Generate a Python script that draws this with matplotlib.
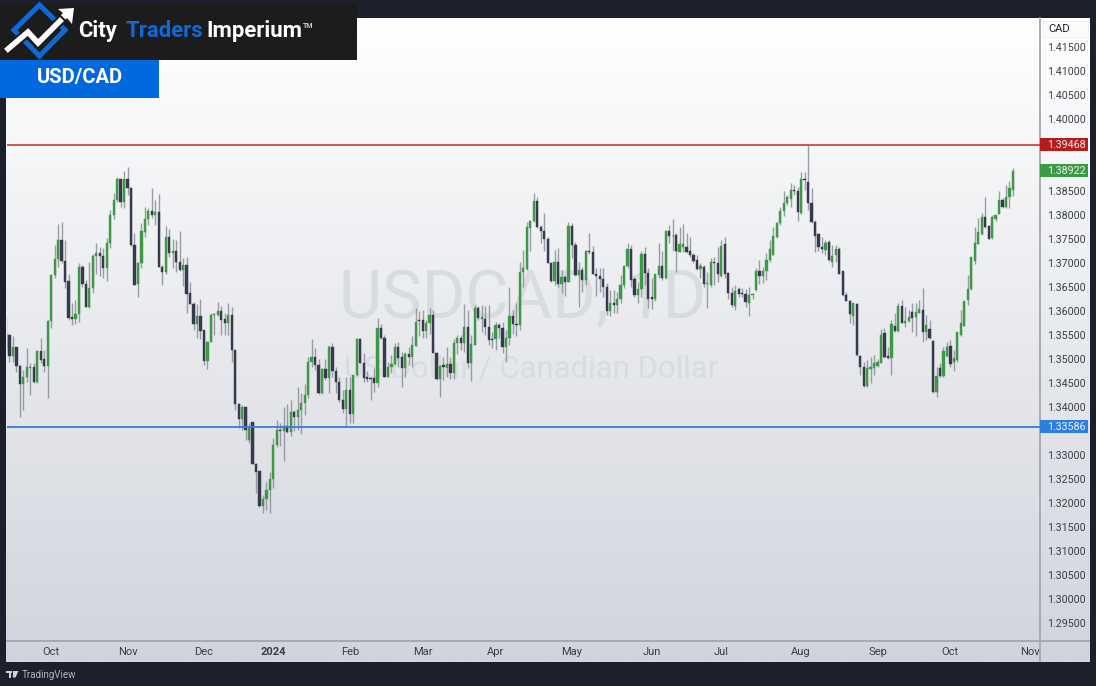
import numpy as np
import matplotlib
matplotlib.use("Agg")
import matplotlib.pyplot as plt
from matplotlib.patches import Rectangle, Polygon
from matplotlib.transforms import blended_transform_factory

highs = [
1.3588,1.3553,1.3547,1.3526,1.3487,1.3477,1.3522,1.3491,1.3491,1.3519,
1.3543,1.3519,1.3581,1.3678,1.3737,1.3781,1.3785,1.3747,1.3678,1.3617,
1.3623,1.3699,1.3696,1.3665,1.3703,1.3718,1.3741,1.3734,1.3731,1.3753,
1.3810,1.3845,1.3880,1.3876,1.3892,1.3899,1.3859,1.3762,1.3703,1.3783,
1.3816,1.3814,1.3856,1.3831,1.3843,1.3696,1.3777,1.3771,1.3751,1.3748,
1.3767,1.3710,1.3712,1.3661,1.3619,1.3615,1.3626,1.3560,1.3537,1.3595,
1.3595,1.3619,1.3610,1.3595,1.3617,1.3609,1.3519,1.3408,1.3404,1.3401,
1.3367,1.3369,1.3283,1.3267,1.3217,1.3244,1.3265,1.3335,1.3372,1.3366,
1.3399,1.3406,1.3415,1.3394,1.3442,1.3429,1.3448,1.3505,1.3542,1.3522,
1.3501,1.3481,1.3501,1.3529,1.3534,1.3484,1.3463,1.3435,1.3463,1.3463,
1.3467,1.3543,1.3543,1.3512,1.3474,1.3463,1.3481,1.3585,1.3573,1.3550,
1.3494,1.3508,1.3533,1.3535,1.3515,1.3515,1.3526,1.3547,1.3606,1.3599,
1.3602,1.3581,1.3606,1.3602,1.3515,1.3488,1.3505,1.3524,1.3505,1.3541,
1.3551,1.3550,1.3615,1.3603,1.3550,1.3612,1.3610,1.3612,1.3610,1.3612,
1.3557,1.3578,1.3574,1.3578,1.3560,1.3651,1.3602,1.3616,1.3703,1.3727,
1.3786,1.3790,1.3845,1.3837,1.3779,1.3805,1.3755,1.3703,1.3727,1.3731,
1.3685,1.3675,1.3785,1.3784,1.3744,1.3703,1.3692,1.3727,1.3763,1.3735,
1.3689,1.3689,1.3689,1.3658,1.3644,1.3644,1.3640,1.3675,1.3696,1.3742,
1.3737,1.3671,1.3661,1.3724,1.3734,1.3689,1.3668,1.3678,1.3741,1.3724,
1.3769,1.3779,1.3791,1.3762,1.3776,1.3781,1.3763,1.3755,1.3720,1.3717,
1.3699,1.3696,1.3682,1.3710,1.3712,1.3734,1.3748,1.3755,1.3682,1.3651,
1.3654,1.3651,1.3647,1.3645,1.3649,1.3637,1.3689,1.3706,1.3692,1.3720,
1.3748,1.3776,1.3786,1.3817,1.3849,1.3842,1.3866,1.3863,1.3859,1.3889,
1.3889,1.3946,1.3856,1.3790,1.3762,1.3755,1.3748,1.3747,1.3738,1.3738,
1.3734,1.3684,1.3640,1.3623,1.3617,1.3616,1.3508,1.3494,1.3498,1.3505,
1.3508,1.3501,1.3562,1.3564,1.3526,1.3581,1.3595,1.3616,1.3623,1.3609,
1.3602,1.3616,1.3616,1.3623,1.3647,1.3592,1.3581,1.3540,1.3484,1.3491,
1.3526,1.3536,1.3540,1.3519,1.3557,1.3602,1.3621,1.3675,1.3713,1.3776,
1.3793,1.3804,1.3838,1.3779,1.3800,1.3800,1.3849,1.3835,1.3863,1.3870,
1.3897]

lows = [
1.3512,1.3494,1.3494,1.3472,1.3380,1.3394,1.3453,1.3425,1.3449,1.3449,
1.3491,1.3472,1.3418,1.3564,1.3668,1.3691,1.3699,1.3647,1.3581,1.3571,
1.3573,1.3578,1.3651,1.3608,1.3607,1.3637,1.3678,1.3672,1.3668,1.3663,
1.3731,1.3792,1.3828,1.3816,1.3814,1.3842,1.3736,1.3654,1.3630,1.3689,
1.3755,1.3779,1.3793,1.3779,1.3691,1.3654,1.3678,1.3713,1.3689,1.3682,
1.3684,1.3652,1.3595,1.3615,1.3560,1.3543,1.3542,1.3487,1.3480,1.3536,
1.3549,1.3590,1.3550,1.3550,1.3550,1.3494,1.3394,1.3356,1.3352,1.3331,
1.3324,1.3281,1.3220,1.3192,1.3179,1.3185,1.3179,1.3231,1.3317,1.3319,
1.3288,1.3345,1.3340,1.3349,1.3352,1.3344,1.3383,1.3418,1.3484,1.3477,
1.3427,1.3427,1.3456,1.3430,1.3463,1.3429,1.3411,1.3387,1.3359,1.3366,
1.3366,1.3465,1.3491,1.3453,1.3453,1.3415,1.3432,1.3441,1.3542,1.3463,
1.3462,1.3470,1.3488,1.3484,1.3441,1.3463,1.3488,1.3484,1.3527,1.3547,
1.3543,1.3543,1.3553,1.3512,1.3456,1.3420,1.3456,1.3463,1.3458,1.3458,
1.3510,1.3519,1.3514,1.3481,1.3455,1.3529,1.3581,1.3557,1.3550,1.3529,
1.3522,1.3519,1.3543,1.3512,1.3494,1.3529,1.3553,1.3547,1.3560,1.3651,
1.3686,1.3725,1.3786,1.3772,1.3742,1.3724,1.3699,1.3661,1.3654,1.3651,
1.3637,1.3631,1.3660,1.3710,1.3672,1.3609,1.3640,1.3654,1.3719,1.3677,
1.3631,1.3640,1.3630,1.3592,1.3590,1.3595,1.3595,1.3616,1.3647,1.3689,
1.3651,1.3630,1.3616,1.3630,1.3654,1.3606,1.3604,1.3621,1.3668,1.3665,
1.3667,1.3741,1.3724,1.3682,1.3722,1.3722,1.3720,1.3713,1.3699,1.3685,
1.3668,1.3651,1.3606,1.3651,1.3654,1.3661,1.3670,1.3668,1.3626,1.3609,
1.3603,1.3630,1.3630,1.3609,1.3590,1.3626,1.3642,1.3656,1.3658,1.3665,
1.3703,1.3717,1.3753,1.3779,1.3797,1.3821,1.3817,1.3842,1.3788,1.3802,
1.3852,1.3810,1.3784,1.3722,1.3724,1.3720,1.3717,1.3705,1.3691,1.3703,
1.3677,1.3632,1.3620,1.3576,1.3571,1.3506,1.3467,1.3441,1.3442,1.3449,
1.3467,1.3484,1.3491,1.3503,1.3501,1.3467,1.3557,1.3557,1.3574,1.3567,
1.3578,1.3557,1.3547,1.3595,1.3536,1.3540,1.3542,1.3430,1.3420,1.3462,
1.3463,1.3505,1.3483,1.3474,1.3494,1.3547,1.3569,1.3613,1.3644,1.3698,
1.3740,1.3758,1.3772,1.3750,1.3749,1.3788,1.3802,1.3814,1.3815,1.3814,
1.3839]

opens = [
1.3553,1.3549,1.3506,1.3526,1.3485,1.3447,1.3462,1.3482,1.3483,1.3453,
1.3517,1.3499,1.3485,1.3580,1.3676,1.3708,1.3748,1.3704,1.3662,1.3587,
1.3583,1.3594,1.3692,1.3656,1.3609,1.3648,1.3715,1.3720,1.3715,1.3690,
1.3741,1.3799,1.3831,1.3875,1.3828,1.3876,1.3857,1.3737,1.3656,1.3699,
1.3765,1.3792,1.3808,1.3799,1.3806,1.3692,1.3682,1.3755,1.3720,1.3726,
1.3703,1.3685,1.3696,1.3637,1.3615,1.3572,1.3590,1.3560,1.3496,1.3536,
1.3592,1.3592,1.3599,1.3583,1.3574,1.3592,1.3518,1.3406,1.3376,1.3399,
1.3331,1.3368,1.3281,1.3266,1.3194,1.3208,1.3227,1.3250,1.3321,1.3352,
1.3349,1.3360,1.3347,1.3390,1.3379,1.3394,1.3409,1.3425,1.3494,1.3505,
1.3487,1.3429,1.3479,1.3461,1.3524,1.3474,1.3453,1.3415,1.3396,1.3435,
1.3385,1.3467,1.3542,1.3492,1.3462,1.3460,1.3460,1.3451,1.3565,1.3544,
1.3463,1.3483,1.3490,1.3524,1.3505,1.3482,1.3510,1.3505,1.3528,1.3581,
1.3581,1.3559,1.3574,1.3592,1.3513,1.3458,1.3487,1.3481,1.3490,1.3470,
1.3533,1.3544,1.3533,1.3567,1.3492,1.3529,1.3606,1.3584,1.3584,1.3567,
1.3542,1.3542,1.3571,1.3565,1.3526,1.3544,1.3590,1.3573,1.3571,1.3682,
1.3688,1.3773,1.3788,1.3830,1.3774,1.3767,1.3750,1.3701,1.3663,1.3703,
1.3656,1.3670,1.3660,1.3777,1.3738,1.3674,1.3685,1.3665,1.3726,1.3723,
1.3677,1.3672,1.3667,1.3651,1.3601,1.3617,1.3613,1.3624,1.3654,1.3694,
1.3729,1.3666,1.3633,1.3645,1.3718,1.3680,1.3630,1.3626,1.3675,1.3694,
1.3668,1.3767,1.3757,1.3758,1.3723,1.3733,1.3734,1.3724,1.3717,1.3706,
1.3688,1.3692,1.3656,1.3654,1.3702,1.3701,1.3673,1.3739,1.3679,1.3637,
1.3610,1.3645,1.3637,1.3635,1.3617,1.3633,1.3644,1.3683,1.3672,1.3683,
1.3706,1.3717,1.3754,1.3783,1.3808,1.3824,1.3833,1.3852,1.3850,1.3805,
1.3876,1.3869,1.3826,1.3785,1.3760,1.3733,1.3727,1.3744,1.3703,1.3717,
1.3729,1.3683,1.3633,1.3621,1.3590,1.3615,1.3507,1.3483,1.3444,1.3480,
1.3482,1.3485,1.3492,1.3555,1.3507,1.3503,1.3569,1.3558,1.3611,1.3576,
1.3580,1.3597,1.3588,1.3595,1.3602,1.3557,1.3563,1.3537,1.3431,1.3481,
1.3465,1.3506,1.3527,1.3494,1.3497,1.3549,1.3569,1.3622,1.3646,1.3705,
1.3740,1.3760,1.3795,1.3777,1.3753,1.3791,1.3802,1.3831,1.3817,1.3837,
1.3853]

closes = [
1.3521,1.3506,1.3526,1.3485,1.3447,1.3462,1.3483,1.3483,1.3453,1.3517,
1.3498,1.3485,1.3580,1.3676,1.3708,1.3748,1.3704,1.3661,1.3586,1.3583,
1.3594,1.3692,1.3656,1.3609,1.3648,1.3715,1.3720,1.3715,1.3690,1.3741,
1.3800,1.3831,1.3875,1.3828,1.3876,1.3857,1.3737,1.3655,1.3699,1.3766,
1.3791,1.3808,1.3799,1.3806,1.3692,1.3682,1.3755,1.3720,1.3724,1.3703,
1.3685,1.3695,1.3636,1.3615,1.3572,1.3590,1.3559,1.3496,1.3536,1.3592,
1.3594,1.3599,1.3581,1.3574,1.3592,1.3518,1.3406,1.3376,1.3399,1.3352,
1.3359,1.3281,1.3265,1.3194,1.3208,1.3228,1.3251,1.3321,1.3352,1.3349,
1.3360,1.3347,1.3390,1.3379,1.3394,1.3409,1.3426,1.3494,1.3505,1.3487,
1.3429,1.3479,1.3461,1.3524,1.3474,1.3453,1.3415,1.3396,1.3435,1.3385,
1.3467,1.3542,1.3492,1.3460,1.3458,1.3458,1.3451,1.3565,1.3544,1.3463,
1.3484,1.3490,1.3524,1.3503,1.3482,1.3510,1.3505,1.3529,1.3578,1.3579,
1.3559,1.3574,1.3592,1.3513,1.3458,1.3485,1.3483,1.3490,1.3470,1.3533,
1.3544,1.3533,1.3567,1.3492,1.3531,1.3606,1.3585,1.3587,1.3567,1.3540,
1.3540,1.3571,1.3565,1.3526,1.3544,1.3590,1.3572,1.3571,1.3682,1.3689,
1.3774,1.3788,1.3830,1.3774,1.3767,1.3749,1.3701,1.3663,1.3702,1.3656,
1.3670,1.3660,1.3777,1.3738,1.3674,1.3685,1.3665,1.3726,1.3723,1.3677,
1.3672,1.3666,1.3651,1.3601,1.3617,1.3613,1.3624,1.3654,1.3694,1.3729,
1.3665,1.3633,1.3645,1.3718,1.3680,1.3626,1.3626,1.3677,1.3694,1.3668,
1.3767,1.3757,1.3756,1.3724,1.3739,1.3739,1.3723,1.3717,1.3705,1.3688,
1.3694,1.3656,1.3658,1.3703,1.3701,1.3678,1.3735,1.3678,1.3638,1.3613,
1.3641,1.3635,1.3635,1.3619,1.3633,1.3635,1.3683,1.3673,1.3683,1.3706,
1.3729,1.3757,1.3784,1.3809,1.3826,1.3837,1.3853,1.3851,1.3807,1.3874,
1.3873,1.3826,1.3785,1.3756,1.3733,1.3729,1.3742,1.3706,1.3715,1.3730,
1.3677,1.3633,1.3620,1.3593,1.3616,1.3508,1.3484,1.3444,1.3481,1.3484,
1.3492,1.3494,1.3550,1.3505,1.3503,1.3573,1.3559,1.3611,1.3576,1.3579,
1.3587,1.3585,1.3597,1.3604,1.3557,1.3571,1.3543,1.3431,1.3465,1.3465,
1.3517,1.3526,1.3490,1.3502,1.3556,1.3576,1.3620,1.3646,1.3712,1.3741,
1.3764,1.3795,1.3774,1.3750,1.3795,1.3799,1.3831,1.3816,1.3837,1.3856,
1.3892]

price_ticks = [1.295,1.30,1.305,1.31,1.315,1.32,1.325,1.33,1.34,1.345,1.35,1.355,1.36,
               1.365,1.37,1.375,1.38,1.385,1.40,1.405,1.41,1.415]
month_labels = ["Oct","Nov","Dec","2024","Feb","Mar","Apr","May","Jun","Jul","Aug","Sep","Oct","Nov"]
month_index = [13,35,57,77,99,120,141,163,186,206,229,251,272,295]
resistance = 1.39468
support = 1.33586
last_price = 1.38922

plt.rcParams['font.family'] = ['Roboto', 'DejaVu Sans']
W, H = 1096, 686
BG = "#1c202d"
GREEN = "#3c9a45"
DARK = "#363a4c"
fig = plt.figure(figsize=(W/100, H/100), dpi=100, facecolor=BG)

def rect(x0, y0, x1, y1):
    return [x0/W, 1-y1/H, (x1-x0)/W, (y1-y0)/H]

# gradient panel
bg = fig.add_axes(rect(6, 18, 1090, 662), zorder=0)
bg.imshow(np.linspace(0, 1, 256).reshape(-1, 1), aspect='auto',
          cmap=matplotlib.colors.LinearSegmentedColormap.from_list('g', ['#ffffff', '#d1d4dc']))
bg.axis('off')

# main axes
ax = fig.add_axes(rect(6.5, 18, 1040, 641), zorder=1)
ax.patch.set_alpha(0)
n = len(closes)
idx = np.arange(n)
ax.set_xlim(0.14, 297.8)
ax.set_ylim(1.29125, 1.42104)

ax.text(0.499, 0.547, "USDCAD, 1D", transform=ax.transAxes, ha='center', va='center', fontsize=48,
        color='#d9dbe2', zorder=0)
ax.text(0.5075, 0.4366, "US Dollar / Canadian Dollar", transform=ax.transAxes, ha='center', va='center',
        fontsize=22.4, color='#d9dbe2', zorder=0)

o = np.array(opens); c = np.array(closes)
up = c >= o
cols = [GREEN if u else DARK for u in up]
ax.vlines(idx, lows, highs, colors='#8b8e98', lw=1.0, zorder=2, alpha=0.85)
ax.bar(idx, np.abs(c-o), bottom=np.minimum(o, c), width=0.64, color=cols, edgecolor=cols, lw=0.3, zorder=3)

ax.axhline(resistance, color='#c62828', lw=1.1, zorder=4)
ax.axhline(support, color='#2f7fde', lw=1.3, zorder=4)

ax.yaxis.tick_right()
ax.set_yticks(price_ticks)
ax.set_yticklabels([f"{p:.5f}" for p in price_ticks], fontsize=7.7, color='#3a3d48')
ax.tick_params(axis='y', length=0, pad=4.8)
ax.set_xticks(month_index)
ax.set_xticklabels(month_labels, fontsize=8, color='#3a3d48')
ax.tick_params(axis='x', length=0, pad=4.5)
for lab in ax.get_xticklabels():
    if lab.get_text() == "2024":
        lab.set_fontweight('bold')
for s in ('top', 'left'):
    ax.spines[s].set_visible(False)
for s in ('right', 'bottom'):
    ax.spines[s].set_color('#a3a6af')
    ax.spines[s].set_linewidth(1.3)

# price tags
tr = blended_transform_factory(ax.transAxes, ax.transData)
tag_w = 48/1033.5
tag_h = 13/4800
for price, col in ((resistance, '#b71c1c'), (last_price, GREEN), (support, '#2a7fe0')):
    ax.add_patch(Rectangle((1.0, price-tag_h/2), tag_w, tag_h, transform=tr, facecolor=col,
                           edgecolor='none', clip_on=False, zorder=6))
    ax.text(1.0+7/1033.5, price, f"{price:.5f}", transform=tr, va='center', ha='left', fontsize=7.7,
            color='#f1f1f1', zorder=7, clip_on=False)

# overlay in figure pixels for branding
ov = fig.add_axes([0, 0, 1, 1], zorder=5)
ov.set_xlim(0, W); ov.set_ylim(H, 0); ov.axis('off'); ov.patch.set_alpha(0)
ov.plot([1040, 1090], [641, 641], color='#a3a6af', lw=1.3, solid_capstyle='butt')
ov.plot([1040, 1040], [641, 662], color='#a3a6af', lw=1.3, solid_capstyle='butt')
ov.add_patch(Rectangle((1043, 21), 45, 16, facecolor='#fbfbfc', edgecolor='#eceef1', lw=0.6))
ov.text(1048, 29, "CAD", fontsize=8, color='#1f2230', va='center', ha='left')

ov.add_patch(Rectangle((0, 4), 357, 55.5, facecolor='#1c1c1c', edgecolor='none'))
ov.add_patch(Rectangle((0, 59.5), 159, 38.5, facecolor='#0268de', edgecolor='none'))
ov.text(79.5, 78, "USD/CAD", fontsize=14.5, color='white', fontweight='bold', ha='center', va='center')

ov.add_patch(Polygon([(39.5, 5), (65, 30), (39.5, 56), (14, 30)], closed=True, fill=False,
                     edgecolor='#0f6ad8', lw=3.6))
ov.plot([8, 28, 38, 60], [49, 32, 43, 21], color='#1c1c1c', lw=7, solid_joinstyle='miter')
ov.plot([8, 28, 38, 60], [49, 32, 43, 21], color='white', lw=4, solid_joinstyle='miter')
ov.add_patch(Polygon([(74, 8), (72, 24), (67, 18), (60, 25), (56, 20), (63, 13), (58, 9)], closed=True,
                     facecolor='white', edgecolor='none'))

for x, s, col in ((78.5, "City", 'white'), (125, "Traders", '#0f6ad8'), (206.5, "Imperium", 'white')):
    ov.text(x, 31, s, fontsize=15.9, color=col, fontweight='bold', ha='left', va='center')
ov.text(303, 26, "TM", fontsize=5, color='#cfcfcf', fontweight='bold', ha='left', va='center')

# TradingView footer
ov.add_patch(Rectangle((6, 671), 6, 2.2, facecolor='#d1d4dc', edgecolor='none'))
ov.add_patch(Rectangle((8.5, 671), 2.4, 6.5, facecolor='#d1d4dc', edgecolor='none'))
ov.add_patch(Polygon([(13, 671), (18.5, 671), (15.5, 677.5), (12.8, 677.5)], closed=True,
                     facecolor='#d1d4dc', edgecolor='none'))
ov.text(22, 675, "TradingView", fontsize=7, color='#b2b5be', ha='left', va='center')

fig.savefig("out.png", dpi=100, facecolor=BG)
